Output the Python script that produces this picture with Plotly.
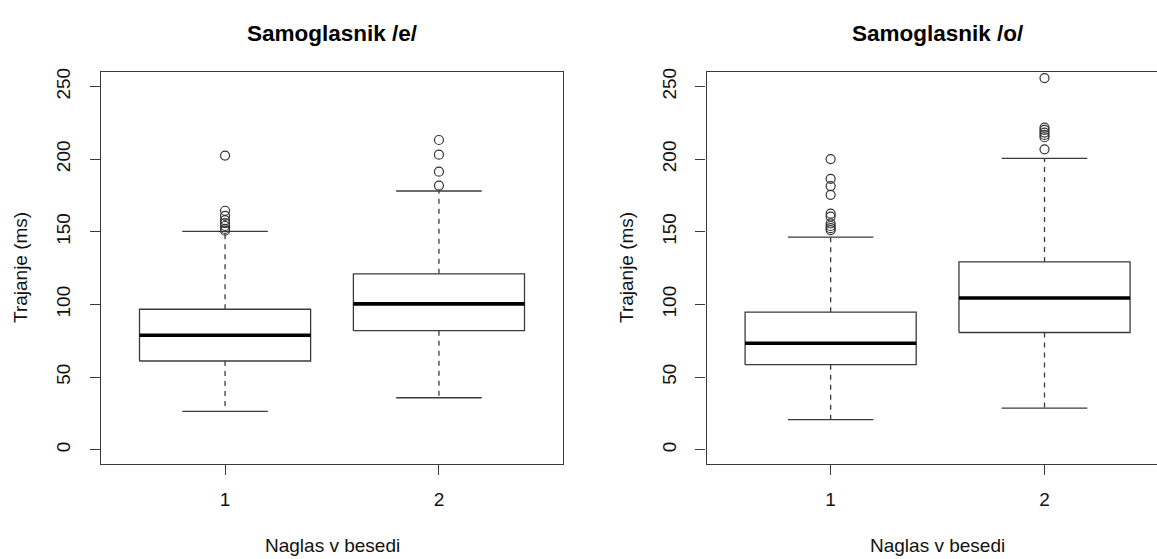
import plotly.graph_objects as go

# ---------------- data ----------------
groups = ["1", "2"]
positions = [1, 2]
panel_titles = ["Samoglasnik /e/", "Samoglasnik /o/"]
x_label = "Naglas v besedi"
y_label = "Trajanje (ms)"
y_ticks = [0, 50, 100, 150, 200, 250]

# vowel /e/
e_lower_whisker = [26.4, 35.8]
e_q1 = [61.1, 82.0]
e_median = [78.8, 100.4]
e_q3 = [96.7, 121.1]
e_upper_whisker = [150.3, 178.1]
e_outliers_1 = [202.5, 164.5, 161.0, 158.0, 156.0, 154.0, 152.0, 150.8]
e_outliers_2 = [213.2, 203.1, 191.4, 181.8]

# vowel /o/
o_lower_whisker = [20.7, 28.7]
o_q1 = [58.6, 80.7]
o_median = [73.3, 104.5]
o_q3 = [94.7, 129.3]
o_upper_whisker = [146.4, 200.6]
o_outliers_1 = [200.1, 186.5, 181.5, 175.5, 162.5, 160.5, 155.8, 154.0, 152.5, 151.2]
o_outliers_2 = [255.8, 221.7, 220.1, 218.3, 216.7, 215.1, 206.8]

# ---------------- style ----------------
W, H = 1157, 559
BOX_W = 0.8          # box width (data units)
CAP_W = 0.4          # staple width
LINE_C = "#3a3a3a"
LW = 1.3
FONT = "Liberation Sans, Arial, Helvetica, sans-serif"

fig = go.Figure()


def add_panel(fig, xa, ya, lw, q1, med, q3, uw, outs):
    for i, p in enumerate(positions):
        # box
        fig.add_trace(go.Scatter(
            x=[p - BOX_W / 2, p + BOX_W / 2, p + BOX_W / 2, p - BOX_W / 2, p - BOX_W / 2],
            y=[q1[i], q1[i], q3[i], q3[i], q1[i]],
            mode="lines", line=dict(color=LINE_C, width=LW),
            xaxis=xa, yaxis=ya, showlegend=False, hoverinfo="skip"))
        # median
        fig.add_trace(go.Scatter(
            x=[p - BOX_W / 2, p + BOX_W / 2], y=[med[i], med[i]],
            mode="lines", line=dict(color="#000000", width=3.6),
            xaxis=xa, yaxis=ya, showlegend=False, hoverinfo="skip"))
        # whiskers (dashed)
        for a, b in ((q3[i], uw[i]), (q1[i], lw[i])):
            fig.add_trace(go.Scatter(
                x=[p, p], y=[a, b], mode="lines",
                line=dict(color=LINE_C, width=LW, dash="5px,5px"),
                xaxis=xa, yaxis=ya, showlegend=False, hoverinfo="skip"))
        # staples
        for v in (uw[i], lw[i]):
            fig.add_trace(go.Scatter(
                x=[p - CAP_W / 2, p + CAP_W / 2], y=[v, v], mode="lines",
                line=dict(color=LINE_C, width=LW),
                xaxis=xa, yaxis=ya, showlegend=False, hoverinfo="skip"))
        # outliers
        fig.add_trace(go.Scatter(
            x=[p] * len(outs[i]), y=outs[i], mode="markers",
            marker=dict(symbol="circle-open", size=9, color="#333333",
                        line=dict(width=1.2, color="#333333")),
            xaxis=xa, yaxis=ya, showlegend=False, hoverinfo="skip"))


add_panel(fig, "x", "y", e_lower_whisker, e_q1, e_median, e_q3, e_upper_whisker,
          [e_outliers_1, e_outliers_2])
add_panel(fig, "x2", "y2", o_lower_whisker, o_q1, o_median, o_q3, o_upper_whisker,
          [o_outliers_1, o_outliers_2])

# panel geometry (pixels)
L1, R1 = 101, 563
L2, R2 = 706.6, 1157
TOP, BOT = 72, 464.3
ydom = [1 - BOT / H, 1 - TOP / H]

common_x = dict(tickvals=positions, ticktext=groups, ticks="outside", ticklen=10,
                tickwidth=LW, tickcolor=LINE_C, showline=True, linecolor=LINE_C,
                linewidth=LW, showgrid=False, zeroline=False, automargin=False,
                tickfont=dict(family=FONT, size=19, color="#111111"),
                ticklabelstandoff=8, fixedrange=True)
common_y = dict(tickvals=y_ticks, ticks="outside", ticklen=10, tickwidth=LW,
                tickcolor=LINE_C, showline=True, linecolor=LINE_C, linewidth=LW,
                showgrid=False, zeroline=False, automargin=False, tickangle=-90,
                tickfont=dict(family=FONT, size=19, color="#111111"),
                ticklabelstandoff=12, range=[-10, 260], fixedrange=True)

x2_right = 2 + (R2 - 1044.5) / ((R1 - L1) / 2.16)

fig.update_layout(
    width=W, height=H, autosize=False,
    margin=dict(l=0, r=0, t=0, b=0),
    paper_bgcolor="white", plot_bgcolor="white",
    xaxis=dict(domain=[L1 / W, R1 / W], range=[0.42, 2.58], anchor="y", mirror=True, **common_x),
    yaxis=dict(domain=ydom, anchor="x", mirror=True, **common_y),
    xaxis2=dict(domain=[L2 / W, R2 / W], range=[0.42, x2_right], anchor="y2", mirror=True, **common_x),
    yaxis2=dict(domain=ydom, anchor="x2", mirror=False, **common_y),
)

ann = []
for cx, t in (((L1 + R1) / 2, panel_titles[0]), ((L2 + 1168.6) / 2, panel_titles[1])):
    ann.append(dict(text=f"<b>{t}</b>", x=cx / W, y=1 - 33 / H, xref="paper", yref="paper",
                    xanchor="center", yanchor="middle", showarrow=False,
                    font=dict(family=FONT, size=22.5, color="#000000")))
    ann.append(dict(text=x_label, x=cx / W, y=1 - 545 / H, xref="paper", yref="paper",
                    xanchor="center", yanchor="middle", showarrow=False,
                    font=dict(family=FONT, size=19, color="#111111")))
for lx in (20, 626):
    ann.append(dict(text=y_label, x=lx / W, y=1 - 268 / H, xref="paper", yref="paper",
                    xanchor="center", yanchor="middle", showarrow=False, textangle=-90,
                    font=dict(family=FONT, size=19, color="#111111")))
fig.update_layout(annotations=ann)

fig.write_html("out.html")
